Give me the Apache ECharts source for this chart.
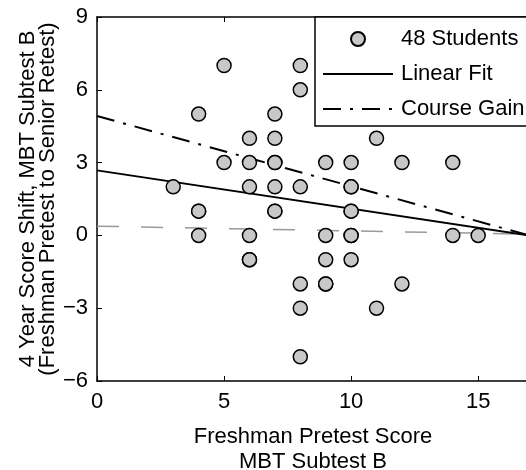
<!DOCTYPE html>
<html>
<head>
    <meta charset="utf-8">
    <title>Score shift</title>
    <script src="https://cdn.jsdelivr.net/npm/echarts@6/dist/echarts.min.js"></script>
    <style>
        body { margin: 0; background: #fff; }
    </style>
</head>
<body>
    <div id="main" style="width: 526px;height:470px;"></div>
    <script type="text/javascript">
        // pretest score / score shift per student (duplicates kept)
        var pretest = [3, 4, 4, 4, 4, 5, 5, 6, 6, 6, 6, 6, 6, 7, 7, 7, 7, 7, 7, 7,
                       8, 8, 8, 8, 8, 8, 9, 9, 9, 9, 9, 10, 10, 10, 10, 10, 10, 10, 10,
                       11, 11, 12, 12, 14, 14, 15];
        var shift   = [2, 5, 1, 1, 0, 7, 3, 4, 3, 2, 0, -1, -1, 5, 4, 3, 3, 2, 1, 1,
                       7, 6, 2, -2, -3, -5, 3, 0, -1, -2, -2, 3, 2, 2, 1, 1, 0, 0, -1,
                       4, -3, 3, -2, 3, 0, 0];
        // fitted lines
        var lineX = [0, 17];
        var fitY = [2.68, 0];
        var gainY = [4.92, 0];
        var baseY = [0.38, 0.05];
        var xTicks = [0, 5, 10, 15];
        var yTicks = [-6, -3, 0, 3, 6, 9];

        var font = 'Liberation Sans, Arial, sans-serif';
        var myChart = echarts.init(document.getElementById('main'));

        function pairs(xs, ys) {
          return xs.map(function (x, i) { return [x, ys[i]]; });
        }

        var xBase = {
          min: 0, max: 17, interval: 5,
          axisLine: { onZero: false, lineStyle: { color: '#000', width: 1.5 } },
          axisTick: { inside: true, length: 5, lineStyle: { color: '#000' } },
          splitLine: { show: false }
        };
        // no marker on the line samples of the legend
        var noMark = { color: 'rgba(0,0,0,0)', borderWidth: 0 };

        var option = {
          animation: false,
          backgroundColor: '#fff',
          textStyle: { fontFamily: font },
          grid: { left: 97, top: 17, width: 432, height: 364, outerBoundsMode: 'none', containLabel: false },
          legend: {
            orient: 'vertical',
            left: 315, top: 17,
            padding: [11, 10, 6, 7],
            itemGap: 13,
            itemWidth: 70, itemHeight: 14,
            backgroundColor: '#fff',
            borderColor: '#000', borderWidth: 1.5, borderRadius: 0,
            textStyle: { fontSize: 22, color: '#000', fontFamily: font, lineHeight: 22, padding: [0, 0, 0, 3] },
            data: [
              { name: '48 Students' },
              { name: 'Linear Fit', itemStyle: noMark },
              { name: 'Course Gain', itemStyle: noMark }
            ]
          },
          xAxis: [
            Object.assign({}, xBase, {
              type: 'value', position: 'bottom',
              axisLabel: {
                fontSize: 22, color: '#000', margin: 10,
                formatter: function (v) { return xTicks.indexOf(v) >= 0 ? String(v) : ''; }
              },
              name: 'Freshman Pretest Score\nMBT Subtest B',
              nameLocation: 'middle', nameGap: 43, nameMoveOverlap: false,
              nameTextStyle: { fontSize: 22, color: '#000', lineHeight: 25 }
            }),
            Object.assign({}, xBase, {
              type: 'value', position: 'top',
              axisLabel: { show: false }
            })
          ],
          yAxis: {
            type: 'value', min: -6, max: 9, interval: 3,
            axisLine: { show: true, onZero: false, lineStyle: { color: '#000', width: 1.5 } },
            axisTick: { show: true, inside: true, length: 5, lineStyle: { color: '#000' } },
            splitLine: { show: false },
            axisLabel: {
              fontSize: 22, color: '#000', margin: 9,
              formatter: function (v) {
                return yTicks.indexOf(v) >= 0 ? String(v).replace('-', '\u2212') : '';
              }
            },
            name: '4 Year Score Shift, MBT Subtest B\n(Freshman Pretest to Senior Retest)',
            nameLocation: 'middle', nameGap: 39, nameMoveOverlap: false,
            nameTextStyle: { fontSize: 22, color: '#000', lineHeight: 20 }
          },
          series: [{
            name: 'grey',
            type: 'line',
            data: pairs(lineX, baseY),
            symbol: 'none',
            lineStyle: { color: '#999', width: 1.5, type: [22, 22] },
            z: 1
          }, {
            name: 'Course Gain',
            type: 'line',
            data: pairs(lineX, gainY),
            symbol: 'none',
            lineStyle: { color: '#000', width: 2, type: [18, 9, 3, 9] },
            z: 2
          }, {
            name: 'Linear Fit',
            type: 'line',
            data: pairs(lineX, fitY),
            symbol: 'none',
            lineStyle: { color: '#000', width: 2 },
            z: 2
          }, {
            name: '48 Students',
            type: 'scatter',
            data: pairs(pretest, shift),
            symbol: 'circle',
            symbolSize: 14,
            itemStyle: { color: '#c8c8c8', borderColor: '#000', borderWidth: 1.5, opacity: 1 },
            z: 3
          }]
        };
        myChart.setOption(option);
    </script>
</body>
</html>
